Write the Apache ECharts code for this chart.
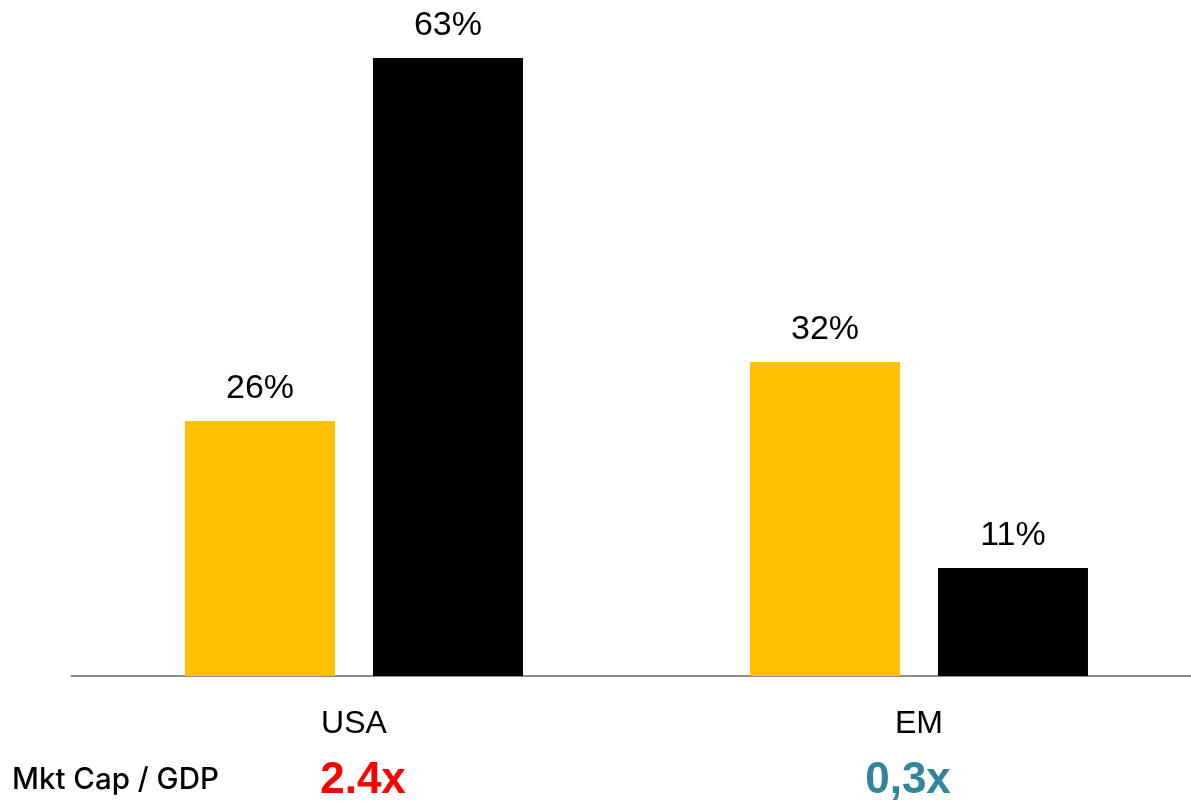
<!DOCTYPE html>
<html>
<head>
<meta charset="utf-8">
<script src="https://cdn.jsdelivr.net/npm/echarts@6/dist/echarts.min.js"></script>
<style>
html,body{margin:0;padding:0;background:#ffffff;}
#chart{width:1191px;height:802px;}
</style>
</head>
<body>
<div id="chart"></div>
<script>
const categories = ['USA', 'EM'];
const seriesA = [26, 32];   // yellow
const seriesB = [63, 11];   // black
const rowLabel = 'Mkt Cap / GDP';
const multiples = ['2.4x', '0,3x'];
const multipleColors = ['#ff0000', '#31859c'];

const chart = echarts.init(document.getElementById('chart'), null, {renderer: 'canvas'});
const labelStyle = {
  show: true, position: 'top', distance: 15,
  formatter: p => p.value + '%',
  fontFamily: 'Liberation Sans, Arial, sans-serif', fontSize: 34, color: '#000'
};
chart.setOption({
  backgroundColor: '#ffffff',
  animation: false,
  grid: {left: 71.5, top: 58, right: -10.5, bottom: 126, containLabel: false, outerBoundsMode: 'none'},
  xAxis: {
    type: 'category', data: categories,
    axisLine: {show: true, lineStyle: {color: '#8c8c8c', width: 2}},
    axisTick: {show: false},
    axisLabel: {fontFamily: 'Liberation Sans, Arial, sans-serif', fontSize: 32, color: '#000', margin: 32}
  },
  yAxis: {type: 'value', min: 0, max: 63, show: false, splitLine: {show: false}},
  series: [
    {type: 'bar', data: seriesA, barWidth: 150, barGap: '25.3%', itemStyle: {color: '#ffc000'}, label: labelStyle},
    {type: 'bar', data: seriesB, barWidth: 150, barGap: '25.3%', itemStyle: {color: '#000000'}, label: labelStyle}
  ],
  graphic: [
    {type: 'text', left: 12, top: 765, style: {text: rowLabel, fontFamily: 'Inter, sans-serif', fontWeight: 500, fontSize: 29.5, fill: '#000'}},
    {type: 'text', x: 363, y: 781, style: {text: multiples[0], align: 'center', verticalAlign: 'middle', fontFamily: 'Liberation Sans, Arial, sans-serif', fontWeight: 'bold', fontSize: 44, fill: multipleColors[0]}},
    {type: 'text', x: 908, y: 781, style: {text: multiples[1], align: 'center', verticalAlign: 'middle', fontFamily: 'Liberation Sans, Arial, sans-serif', fontWeight: 'bold', fontSize: 44, fill: multipleColors[1]}}
  ]
});
</script>
</body>
</html>
